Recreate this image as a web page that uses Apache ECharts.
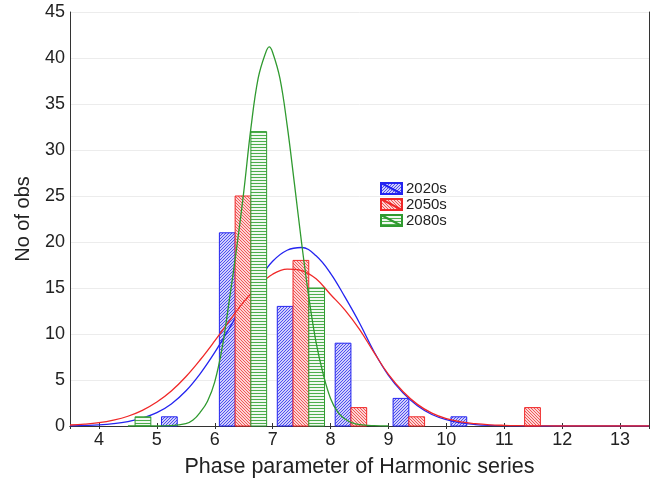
<!DOCTYPE html>
<html>
<head>
<meta charset="utf-8">
<script src="https://cdn.jsdelivr.net/npm/echarts@6/dist/echarts.min.js"></script>
<style>
  html, body { margin: 0; padding: 0; background: #fff; }
  #chart { width: 653px; height: 479px; }
</style>
</head>
<body>
<div id="chart"></div>
<script>
// histogram bins (left edge of each 1-unit bin)
var binStarts = [4, 5, 6, 7, 8, 9, 10, 11, 12];
var counts2020s = [0, 1, 21, 13, 9, 3, 1, 0, 0];
var counts2050s = [0, 0, 25, 18, 2, 1, 0, 2, 0];
var counts2080s = [1, 0, 32, 15, 0, 0, 0, 0, 0];

// fitted curves
var fitX = [3.5, 3.75, 4, 4.25, 4.5, 4.75, 5, 5.25, 5.5, 5.75, 6, 6.25, 6.5, 6.75, 7, 7.25, 7.5, 7.75, 8, 8.25,
  8.5, 8.75, 9, 9.25, 9.5, 9.75, 10, 10.25, 10.5, 10.75, 11, 11.25, 11.5, 11.75, 12, 12.25, 12.5, 12.75, 13, 13.25, 13.5];
var fit2020s = [0.02, 0.06, 0.12, 0.25, 0.48, 0.87, 1.45, 2.4, 3.8, 5.7, 8.0, 10.6, 13.3, 15.8, 17.9, 19.1, 19.4, 18.5, 16.6, 14.0,
  11.2, 8.1, 5.5, 3.6, 2.2, 1.25, 0.68, 0.34, 0.16, 0.07, 0.03, 0.01, 0, 0, 0, 0, 0, 0, 0, 0, 0];
var fit2050s = [0.11, 0.2, 0.36, 0.64, 1.06, 1.7, 2.6, 3.8, 5.35, 7.2, 9.25, 11.4, 13.5, 15.2, 16.5, 17.06, 16.9, 16.0, 14.3, 12.6,
  10.5, 8.0, 5.6, 3.75, 2.35, 1.4, 0.8, 0.45, 0.25, 0.13, 0.07, 0.035, 0.015, 0.006, 0, 0, 0, 0, 0, 0, 0];
var fit2080sX = [4.5, 5, 5.25, 5.5, 5.625, 5.75, 5.875, 6, 6.125, 6.25, 6.375, 6.5, 6.625, 6.75, 6.875, 6.94, 7, 7.125, 7.25,
  7.375, 7.5, 7.625, 7.75, 7.875, 8, 8.125, 8.25, 8.375, 8.5, 8.75, 9];
var fit2080s = [0, 0, 0.03, 0.25, 0.65, 1.5, 2.7, 4.8, 8.4, 13.6, 19.2, 25.4, 32.4, 37.8, 40.5, 41.2, 40.6, 37.8, 32.7,
  26.4, 19.9, 14.0, 9.1, 5.6, 3.0, 1.5, 0.75, 0.33, 0.14, 0.03, 0];

var xTicksMin = 3.5, xTicksMax = 13.5;
var yMax = 45, yStep = 5;

var BAR_OFFSET = 0.08;   // gap from bin edge to first bar
var BAR_WIDTH = 0.272;   // width of one bar, in x units

var FONT = 'Liberation Sans, Arial, sans-serif';

// hatch fills
function hatch(kind, bg, fg) {
  var c = document.createElement('canvas');
  var s = 3;
  c.width = s; c.height = s;
  var ctx = c.getContext('2d');
  ctx.fillStyle = bg;
  ctx.fillRect(0, 0, s, s);
  ctx.strokeStyle = fg;
  ctx.lineWidth = 1;
  ctx.beginPath();
  if (kind === 'h') {
    ctx.moveTo(0, 0.5); ctx.lineTo(s, 0.5);
  } else if (kind === '/') {
    ctx.moveTo(-1, s + 1); ctx.lineTo(s + 1, -1);
  } else {
    ctx.moveTo(-1, -1); ctx.lineTo(s + 1, s + 1);
  }
  ctx.stroke();
  return { image: c, repeat: 'repeat' };
}

function pairs(xs, ys) {
  return xs.map(function (x, i) { return [x, ys[i]]; });
}

function binData(counts) {
  return binStarts.map(function (b, i) { return [b, counts[i]]; });
}

function barRenderer(slot) {
  return function (params, api) {
    var start = api.value(0), count = api.value(1);
    if (!count) return null;
    var x0 = start + BAR_OFFSET + slot * BAR_WIDTH;
    var p0 = api.coord([x0, count]);
    var p1 = api.coord([x0 + BAR_WIDTH, 0]);
    return {
      type: 'rect',
      shape: { x: p0[0], y: p0[1], width: p1[0] - p0[0], height: p1[1] - p0[1] },
      style: api.style()
    };
  };
}

var blue = '#2424f0', red = '#f02828', green = '#2f9a2f';

function barSeries(name, counts, slot, fill, border, z) {
  return {
    name: name,
    type: 'custom',
    renderItem: barRenderer(slot),
    encode: { x: 0, y: 1 },
    data: binData(counts),
    itemStyle: { color: fill, borderColor: border, borderWidth: 1 },
    z: z
  };
}

function fitSeries(name, data, color, z) {
  return {
    name: name,
    type: 'line',
    data: data,
    smooth: 0.4,
    showSymbol: false,
    lineStyle: { color: color, width: 1.3 },
    itemStyle: { color: color },
    silent: true,
    z: z
  };
}

var chart = echarts.init(document.getElementById('chart'), null, { renderer: 'canvas' });

chart.setOption({
  animation: false,
  backgroundColor: '#fff',
  grid: { left: 70, right: 4, top: 12, bottom: 53, outerBoundsMode: 'none' },
  legend: {
    data: ['2020s', '2050s', '2080s'],
    orient: 'vertical',
    left: 380,
    top: 181,
    padding: 0,
    itemWidth: 21,
    itemHeight: 11,
    itemGap: 1,
    icon: 'path://M0 0H21V11H0Z M0 0L21 11',
    textStyle: { fontFamily: FONT, fontSize: 15, lineHeight: 15, color: '#222', padding: [0, 0, 0, -1] }
  },
  xAxis: [{
    type: 'value',
    min: xTicksMin,
    max: xTicksMax,
    splitNumber: 10,
    name: 'Phase parameter of Harmonic series',
    nameLocation: 'middle',
    nameGap: 30,
    nameTextStyle: { fontFamily: FONT, fontSize: 21.5, color: '#222' },
    axisLine: { lineStyle: { color: '#333', width: 1 } },
    axisTick: { inside: true, length: 3, lineStyle: { color: '#333' } },
    axisLabel: { showMinLabel: false, showMaxLabel: false, fontFamily: FONT, fontSize: 18, color: '#222', margin: 5 },
    splitLine: { show: false }
  }, {
    type: 'value',
    position: 'top',
    min: xTicksMin,
    max: xTicksMax,
    splitNumber: 10,
    axisLine: { lineStyle: { color: '#333', width: 1 } },
    axisTick: { inside: true, length: 3, lineStyle: { color: '#333' } },
    axisLabel: { show: false },
    splitLine: { show: false }
  }],
  yAxis: [{
    type: 'value',
    min: 0,
    max: yMax,
    interval: yStep,
    name: 'No of obs',
    nameLocation: 'middle',
    nameGap: 37,
    nameTextStyle: { fontFamily: FONT, fontSize: 20, color: '#222' },
    axisLine: { show: true, lineStyle: { color: '#333', width: 1 } },
    axisTick: { show: false },
    axisLabel: { fontFamily: FONT, fontSize: 18, color: '#222', margin: 5 },
    splitLine: { lineStyle: { color: '#ececec', width: 1 } }
  }, {
    type: 'value',
    position: 'right',
    min: 0,
    max: yMax,
    interval: yStep,
    axisLine: { show: true, lineStyle: { color: '#333', width: 1 } },
    axisTick: { show: false },
    axisLabel: { show: false },
    splitLine: { show: false }
  }],
  series: [
    barSeries('2020s', counts2020s, 0, hatch('/', '#cfcffa', '#4e4ef0'), blue, 2),
    fitSeries('2020s fit', pairs(fitX, fit2020s), blue, 3),
    barSeries('2050s', counts2050s, 1, hatch('\\', '#fcd4d4', '#f05858'), red, 4),
    fitSeries('2050s fit', pairs(fitX, fit2050s), red, 5),
    barSeries('2080s', counts2080s, 2, hatch('h', '#f0f8f0', '#4cae4c'), green, 6),
    fitSeries('2080s fit', pairs(fit2080sX, fit2080s), green, 7)
  ]
});
</script>
</body>
</html>
